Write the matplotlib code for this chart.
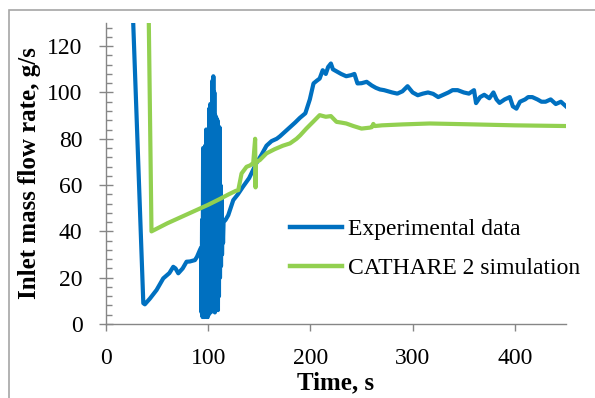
import matplotlib
matplotlib.use("Agg")
import matplotlib.pyplot as plt
from matplotlib.patches import Rectangle
from matplotlib.ticker import MultipleLocator

# experimental inlet mass flow rate (blue)
exp_t = [25, 36.5, 38, 43, 49.5, 56, 62, 65.8, 68, 70.7, 75, 78.8, 82, 87, 89, 91.9,
         93.0, 93.5, 94.0, 94.5, 95.0, 95.5, 96.0, 96.5, 97.0, 97.5, 98.0, 98.5, 99.0, 99.5,
         100.0, 100.5, 101.0, 101.5, 102.0, 102.5, 103.0, 103.5, 104.0, 104.5, 105.0, 105.5,
         106.0, 106.5, 107.0, 107.5, 108.0, 108.5, 109.0, 109.5, 110.0, 110.5, 111.0, 111.5,
         112.0, 112.5, 113.0, 113.5, 114.0, 114.5,
         115, 117, 119.6, 124.5, 129, 134, 140, 147, 152, 157, 162, 167, 170, 175, 180, 185,
         189.6, 195, 199.4, 203, 206, 209, 212, 215, 217.3, 220, 222, 226, 230, 235, 240, 243,
         246, 250, 255, 260, 264, 268, 272, 276, 280, 285, 290, 295, 300, 305, 310, 315, 320,
         325, 330, 335, 339, 344, 350, 355, 360, 362, 366, 370, 375, 379, 382, 385, 390, 395,
         398, 401.5, 405, 410, 413, 417, 422, 426, 430, 435, 440, 445, 450]
exp_v = [150, 9, 8.5, 11, 14.7, 19.7, 22, 24.7, 24, 21.9, 24, 26.9, 27, 27.6, 29, 32,
         33, 5, 45, 3, 76, 3, 60, 3, 77, 4, 84, 3, 70, 3,
         84, 4, 93, 6, 95, 5, 88, 7, 105, 6, 107, 8,
         100, 5, 90, 6, 89, 10, 88, 6, 70, 12, 85, 20,
         60, 25, 55, 30, 45, 35,
         44, 45, 47, 53.5, 56, 59.3, 63, 69.4, 73, 77, 79, 80, 81, 83, 85, 87,
         89, 91, 97, 103.9, 105, 106, 109.6, 108, 111, 112.5, 110, 109, 108, 107, 107.5, 108,
         103.9, 104, 104.6, 103, 102, 101.3, 101, 100.5, 100, 99.5, 100.5, 102.7, 100, 98.8,
         99.5, 100, 99.4, 98, 99, 100, 101, 101, 100, 99.5, 101, 95.4, 98, 99, 97.5, 100, 97,
         95.5, 97, 98, 94, 93, 96, 97, 98, 98, 97, 96, 96, 97, 95, 96, 94]

# CATHARE 2 simulation (green)
sim_t = [41, 44.5, 60, 80, 100, 111.4, 120, 127, 129.4, 132.6, 137.5, 141, 144, 145.9,
         146.3, 146.7, 148, 150.5, 157, 165, 173, 180, 186.4, 190, 196, 203, 209, 215, 220,
         225.5, 230, 235, 242, 250, 258, 260, 261.5, 263, 270, 290, 316.7, 350, 400, 450]
sim_v = [160, 40, 43.5, 47.5, 51.5, 54, 56, 57.5, 57.8, 65, 67.9, 68.5, 69.5, 80,
         59, 70, 70.2, 70.8, 73.7, 75.5, 77, 78, 80, 81.5, 84.4, 87.5, 90.2, 89.5, 89.8,
         87.3, 87, 86.6, 85.5, 84.4, 84.8, 85, 86.4, 85.5, 85.8, 86.2, 86.6, 86.3, 85.8, 85.5]

x_ticks = [0, 100, 200, 300, 400]
y_ticks = [0, 20, 40, 60, 80, 100, 120]

grey = "#868686"
serif = ["Liberation Serif", "DejaVu Serif"]

fig = plt.figure(figsize=(5.95, 3.98), dpi=100)
ax = fig.add_axes([106 / 595, 1 - 324 / 398, 460 / 595, 301 / 398])

ax.plot(exp_t, exp_v, color="#0070C0", lw=3.0, label="Experimental data",
        solid_joinstyle="round")
ax.plot(sim_t, sim_v, color="#92D050", lw=3.0, label="CATHARE 2 simulation",
        solid_joinstyle="round")

ax.set_xlim(0, 450)
ax.set_ylim(0, 130)
ax.set_xticks(x_ticks)
ax.set_yticks(y_ticks)
ax.yaxis.set_minor_locator(MultipleLocator(4))

for s in ["top", "right"]:
    ax.spines[s].set_visible(False)
for s in ["left", "bottom"]:
    ax.spines[s].set_color(grey)
    ax.spines[s].set_linewidth(1.0)

ax.tick_params(axis="y", which="major", direction="inout", length=10, width=1.0,
               color=grey, pad=12)
ax.tick_params(axis="y", which="minor", direction="in", length=4, width=1.0, color=grey)
ax.tick_params(axis="x", which="major", direction="out", length=5, width=1.0,
               color=grey, pad=12)
for lab in ax.get_xticklabels() + ax.get_yticklabels():
    lab.set_family(serif)
    lab.set_fontsize(17)

ax.set_xlabel("Time, s", family=serif, fontsize=18, fontweight="bold", labelpad=2)
ax.set_ylabel("Inlet mass flow rate, g/s", family=serif, fontsize=18,
              fontweight="bold", labelpad=4)

leg = ax.legend(loc="upper left", bbox_to_anchor=(0.4, 0.35), frameon=False,
                prop={"family": serif, "size": 17}, handlelength=2.2,
                handletextpad=0.25, labelspacing=0.75, borderaxespad=0, borderpad=0)
for h in leg.legend_handles:
    h.set_linewidth(3.2)

fig.add_artist(Rectangle((9 / 595, -0.2), 1.2, 1.2 - 9.5 / 398, transform=fig.transFigure,
                         fill=False, edgecolor="#a6a6a6", lw=1.2))

fig.savefig("out.png", dpi=100)
